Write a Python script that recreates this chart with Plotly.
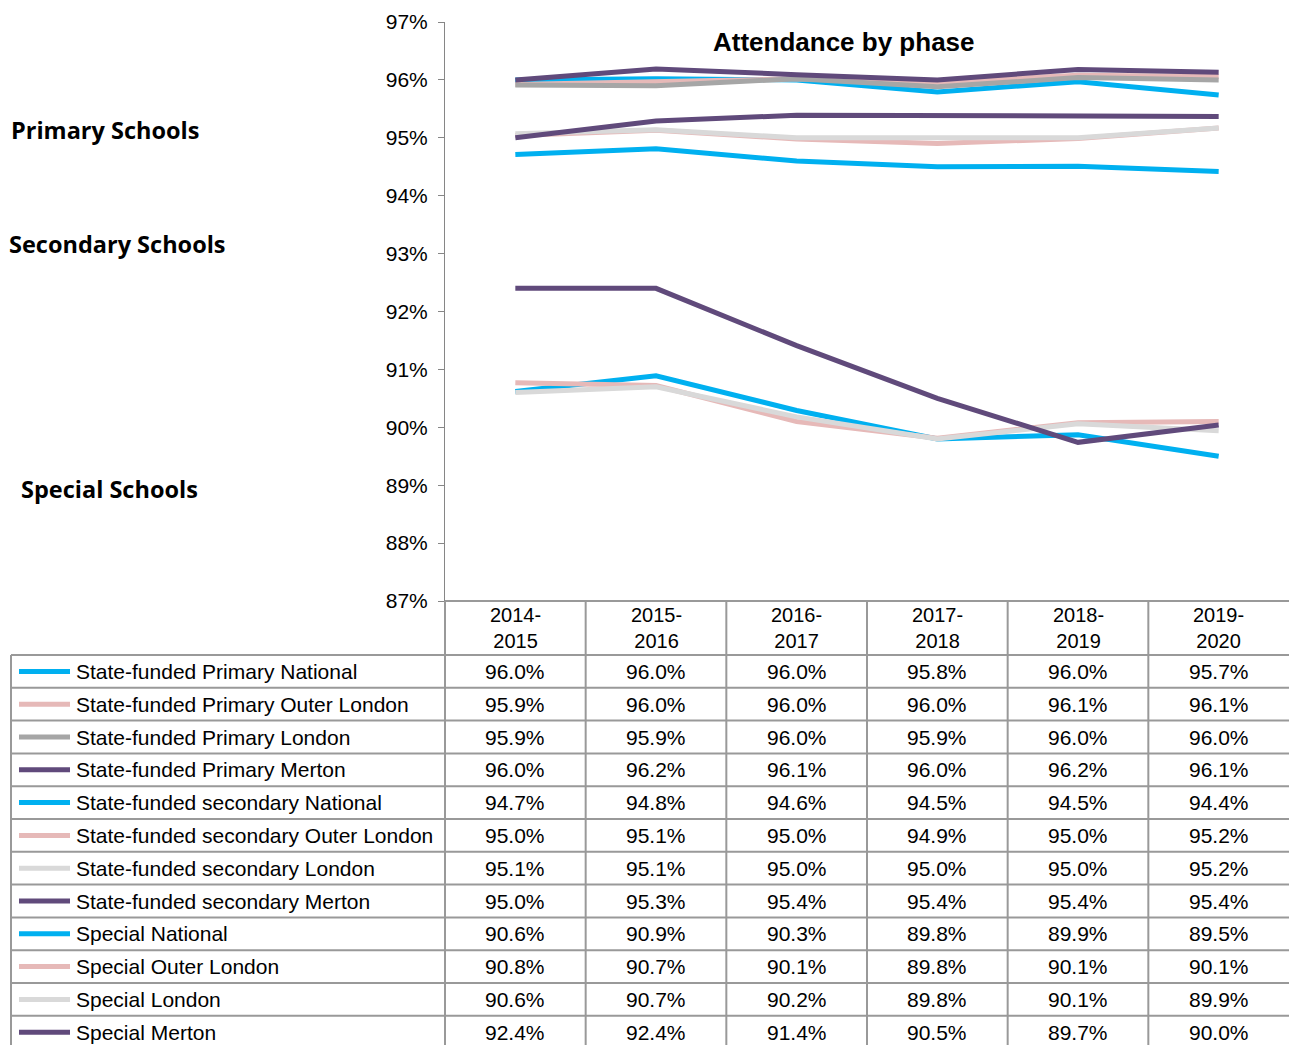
import plotly.graph_objects as go

W, H = 1289, 1045

categories = ["2014-2015", "2015-2016", "2016-2017", "2017-2018", "2018-2019", "2019-2020"]
header_labels = ["2014-<br>2015", "2015-<br>2016", "2016-<br>2017", "2017-<br>2018", "2018-<br>2019", "2019-<br>2020"]

primary_national = [96.0, 96.02, 96.0, 95.79, 95.97, 95.74]
primary_outer_london = [95.92, 95.96, 96.02, 95.96, 96.08, 96.06]
primary_london = [95.91, 95.9, 96.02, 95.88, 96.04, 96.0]
primary_merton = [96.0, 96.19, 96.09, 96.0, 96.18, 96.13]
secondary_national = [94.71, 94.81, 94.6, 94.5, 94.51, 94.42]
secondary_outer_london = [95.04, 95.13, 94.98, 94.9, 94.99, 95.17]
secondary_london = [95.07, 95.14, 95.0, 95.0, 95.0, 95.17]
secondary_merton = [95.0, 95.29, 95.39, 95.39, 95.37, 95.37]
special_national = [90.62, 90.89, 90.29, 89.8, 89.87, 89.5]
special_outer_london = [90.77, 90.72, 90.1, 89.81, 90.08, 90.1]
special_london = [90.6, 90.7, 90.18, 89.8, 90.06, 89.94]
special_merton = [92.4, 92.4, 91.41, 90.5, 89.74, 90.04]

y_ticks = [87, 88, 89, 90, 91, 92, 93, 94, 95, 96, 97]

CYAN, PINK, GREY, PURPLE, LIGHT = "#00B0F0", "#E6B9B8", "#A6A6A6", "#604A7B", "#D9D9D9"

series = [
    ("State-funded Primary National", primary_national, CYAN),
    ("State-funded Primary Outer London", primary_outer_london, PINK),
    ("State-funded Primary London", primary_london, GREY),
    ("State-funded Primary Merton", primary_merton, PURPLE),
    ("State-funded secondary National", secondary_national, CYAN),
    ("State-funded secondary Outer London", secondary_outer_london, PINK),
    ("State-funded secondary London", secondary_london, LIGHT),
    ("State-funded secondary Merton", secondary_merton, PURPLE),
    ("Special National", special_national, CYAN),
    ("Special Outer London", special_outer_london, PINK),
    ("Special London", special_london, LIGHT),
    ("Special Merton", special_merton, PURPLE),
]

# layout geometry (pixels)
PLOT_L, PLOT_R = 445, 1289
PLOT_T, PLOT_B = 22, 601
TABLE_L = 11
HEADER_B = 655
ROW_H = 32.8
FONT = "Liberation Sans, Arial, sans-serif"

def px(x):
    return x / W

def py(y):
    return 1 - y / H

fig = go.Figure()
x_idx = list(range(len(categories)))
for name, vals, col in series:
    fig.add_trace(go.Scatter(
        x=x_idx, y=vals, mode="lines", name=name,
        line=dict(color=col, width=5), showlegend=False,
        hovertemplate="%{y:.1f}%<extra>" + name + "</extra>",
    ))

shapes = []
annotations = []
GRID = "#999999"

for i in range(1, len(categories)):
    shapes.append(dict(type="line", xref="x", yref="paper", x0=i - 0.5, x1=i - 0.5,
                       y0=py(PLOT_B), y1=0, line=dict(color=GRID, width=2)))
shapes.append(dict(type="line", xref="paper", yref="paper", x0=px(PLOT_L), x1=px(PLOT_L),
                   y0=py(PLOT_B), y1=0, line=dict(color=GRID, width=2)))
shapes.append(dict(type="line", xref="paper", yref="paper", x0=px(TABLE_L), x1=px(TABLE_L),
                   y0=py(HEADER_B), y1=0, line=dict(color=GRID, width=2)))
shapes.append(dict(type="line", xref="paper", yref="paper", x0=px(PLOT_L), x1=1,
                   y0=py(PLOT_B), y1=py(PLOT_B), line=dict(color=GRID, width=2)))
for r in range(len(series) + 1):
    yy = HEADER_B + r * ROW_H
    shapes.append(dict(type="line", xref="paper", yref="paper", x0=px(TABLE_L), x1=1,
                       y0=py(yy), y1=py(yy), line=dict(color=GRID, width=2)))

for i, lab in enumerate(header_labels):
    annotations.append(dict(x=i, y=py((PLOT_B + HEADER_B) / 2), xref="x", yref="paper",
                            text=lab, showarrow=False,
                            font=dict(family=FONT, size=20, color="#000"),
                            xanchor="center", yanchor="middle"))

for r, (name, vals, col) in enumerate(series):
    yc = HEADER_B + (r + 0.5) * ROW_H
    shapes.append(dict(type="line", xref="paper", yref="paper", x0=px(19), x1=px(70),
                       y0=py(yc), y1=py(yc), line=dict(color=col, width=5)))
    annotations.append(dict(x=px(74), y=py(yc), xref="paper", yref="paper", text=name,
                            showarrow=False, xanchor="left", yanchor="middle",
                            font=dict(family=FONT, size=21, color="#000")))
    for i, v in enumerate(vals):
        annotations.append(dict(x=i, y=py(yc), xref="x", yref="paper", text=f"{v:.1f}%",
                                showarrow=False, xanchor="center", yanchor="middle",
                                font=dict(family=FONT, size=21, color="#000")))

annotations.append(dict(x=px(844), y=py(42), xref="paper", yref="paper",
                        text="<b>Attendance by phase</b>", showarrow=False,
                        xanchor="center", yanchor="middle",
                        font=dict(family=FONT, size=26, color="#000")))

for txt, x0, yc in [("Primary Schools", 9, 130), ("Secondary Schools", 7, 244), ("Special Schools", 19, 489)]:
    annotations.append(dict(x=px(x0), y=py(yc), xref="paper", yref="paper",
                            text=f"<b>{txt}</b>", showarrow=False, xanchor="left", yanchor="middle",
                            font=dict(family="Open Sans, Noto Sans", size=23.5, color="#000")))

fig.update_layout(
    width=W, height=H,
    margin=dict(l=0, r=0, t=0, b=0, autoexpand=False),
    paper_bgcolor="white", plot_bgcolor="white",
    shapes=shapes, annotations=annotations,
    xaxis=dict(domain=[px(PLOT_L), 1], range=[-0.5, len(categories) - 0.5], automargin=False,
               showticklabels=False, showgrid=False, zeroline=False, showline=False, ticks=""),
    yaxis=dict(domain=[py(PLOT_B), py(PLOT_T)], range=[87, 97], automargin=False,
               tickvals=y_ticks, ticktext=[f"{v}%" for v in y_ticks],
               showgrid=False, zeroline=False, showline=True, linecolor="#868686", linewidth=1,
               ticks="outside", ticklen=6, tickcolor="#868686",
               tickfont=dict(family=FONT, size=21, color="#000"),
               ticklabelstandoff=6),
)

fig.write_html("out.html", config={"displayModeBar": False},
               post_script="document.body.style.margin='0';")
